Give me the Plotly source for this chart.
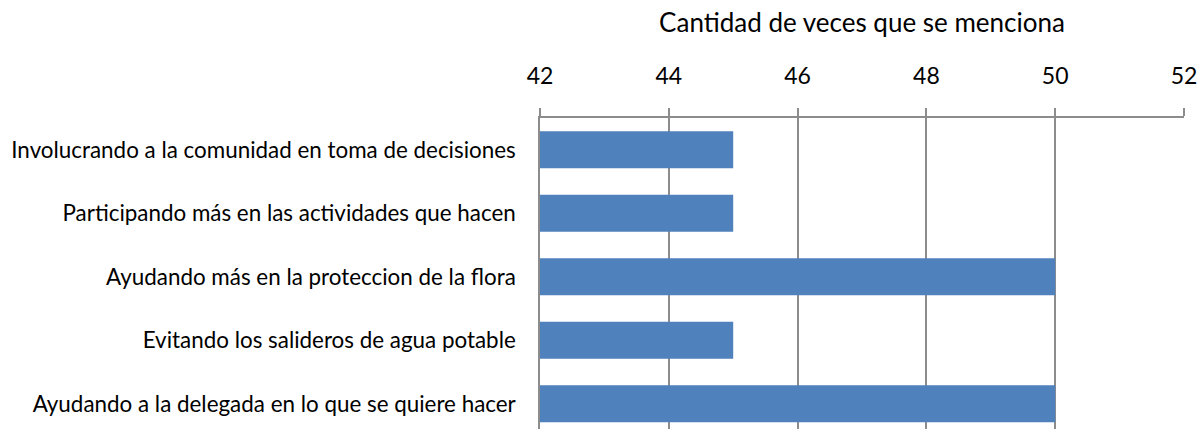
import plotly.graph_objects as go

categories = [
    "Involucrando a la comunidad en toma de decisiones",
    "Participando más en las actividades que hacen",
    "Ayudando más en la proteccion de la flora",
    "Evitando los salideros de agua potable",
    "Ayudando a la delegada en lo que se quiere hacer",
]
values = [45, 45, 50, 45, 50]
x_title = "Cantidad de veces que se menciona"
x_ticks = [42, 44, 46, 48, 50, 52]

grid = "#8c8c8c"
font_family = "Lato, 'Open Sans', sans-serif"

fig = go.Figure(
    go.Bar(
        y=categories,
        x=values,
        base=0,
        orientation="h",
        marker=dict(color="#4F81BD", line=dict(width=0)),
        width=0.58,
    )
)

fig.update_layout(
    width=1200,
    height=429,
    margin=dict(l=540, r=16, t=118, b=0, autoexpand=False),
    plot_bgcolor="white",
    paper_bgcolor="white",
    showlegend=False,
    font=dict(family=font_family, color="#000000"),
    xaxis=dict(
        side="top",
        range=[42, 52],
        tickvals=x_ticks,
        automargin=False,
        ticklabeloverflow="allow",
        showgrid=True,
        gridcolor=grid,
        gridwidth=1.5,
        zeroline=False,
        showline=True,
        linecolor=grid,
        linewidth=1.5,
        ticks="outside",
        ticklen=8,
        tickcolor=grid,
        tickwidth=1.5,
        ticklabelstandoff=15,
        tickfont=dict(size=23),
        title=dict(text=x_title, font=dict(size=26), standoff=21),
    ),
    yaxis=dict(
        type="category",
        categoryorder="array",
        categoryarray=categories,
        range=[4.398, -0.5],
        automargin=False,
        showgrid=False,
        zeroline=False,
        showline=True,
        linecolor=grid,
        linewidth=1.5,
        ticks="",
        ticklabelstandoff=18,
        tickfont=dict(size=22.4),
    ),
)

fig.write_html(
    "out.html",
    config={"displayModeBar": False},
    post_script="document.body.style.margin='0px';",
)
